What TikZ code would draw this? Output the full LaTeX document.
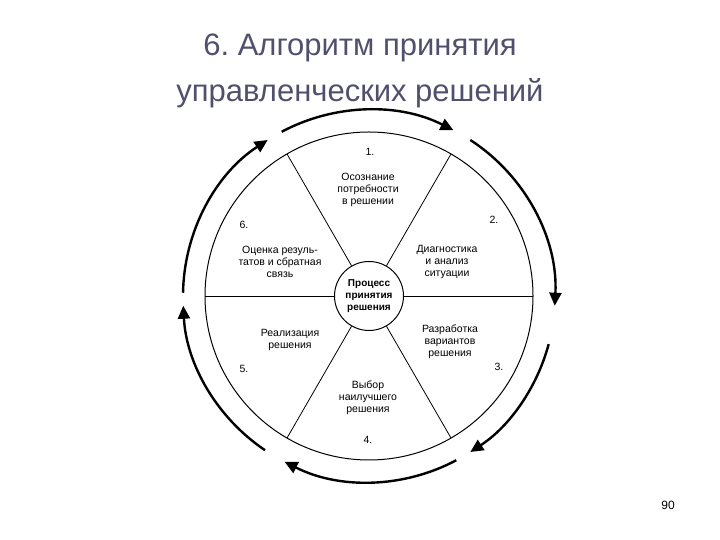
\documentclass[tikz,border=0pt]{standalone}
\usepackage{fontspec}
\setmainfont{Liberation Sans}
\usetikzlibrary{arrows.meta,calc}
\definecolor{titlec}{HTML}{50506E}
\frenchspacing
\begin{document}
\begin{tikzpicture}[x=1pt,y=1pt,
  lab/.style={font=\fontsize{10.5}{12}\selectfont,align=center,inner sep=0pt},
  num/.style={font=\fontsize{10.5}{12}\selectfont,inner sep=0pt},
  cyc/.style={line width=2.4pt,-{Triangle[length=13pt,width=12pt]}}]
\useasboundingbox (0,0) rectangle (720,540);
\coordinate (c) at (369,244);
\node[font=\fontsize{31}{46}\selectfont,text=titlec,align=center] (title) at (360,469) {6. Алгоритм принятия\\управленческих решений};
\node[font=\fontsize{12}{14}\selectfont] (pg) at (668,35) {90};
\draw[line width=1pt] (c) circle (164);
\node[draw,circle,line width=1pt,minimum size=69pt,inner sep=0pt,lab,font=\bfseries\fontsize{10}{12}\selectfont] (mid) at (c) {Процесс\\принятия\\решения};
\foreach \a in {0,60,...,300}
  \draw[line width=0.8pt] (mid.\a) -- ($(c)+(\a:164)$);
\draw[cyc] ($(c)+(118:186)$) arc[start angle=118,end angle=63,radius=186];
\draw[cyc] ($(c)+(57:186)$) arc[start angle=57,end angle=-3,radius=186];
\draw[cyc] ($(c)+(-15:186)$) arc[start angle=-15,end angle=-57,radius=186];
\draw[cyc] ($(c)+(-62:186)$) arc[start angle=-62,end angle=-117,radius=186];
\draw[cyc] ($(c)+(-124:186)$) arc[start angle=-124,end angle=-177,radius=186];
\draw[cyc] ($(c)+(179:186)$) arc[start angle=179,end angle=123,radius=186];
\node[num] (n1) at (370,388) {1.};
\node[lab] (t1) at (368,350) {Осознание\\потребности\\в решении};
\node[num] (n2) at (494,320) {2.};
\node[lab] (t2) at (447,278) {Диагностика\\и анализ\\ситуации};
\node[num] (n3) at (499,173) {3.};
\node[lab] (t3) at (450,198) {Разработка\\вариантов\\решения};
\node[num] (n4) at (368,100) {4.};
\node[lab] (t4) at (368,142) {Выбор\\наилучшего\\решения};
\node[num] (n5) at (244,171) {5.};
\node[lab] (t5) at (290,200) {Реализация\\решения};
\node[num] (n6) at (244,315) {6.};
\node[lab] (t6) at (280,278) {Оценка резуль-\\татов и сбратная\\связь};
\end{tikzpicture}
\end{document}
